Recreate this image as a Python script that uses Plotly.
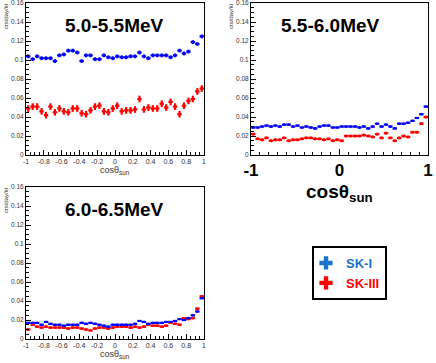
import numpy as np
import plotly.graph_objects as go

# bin centres in cos(theta_sun), 40 bins of width 0.05
cos_bins = np.round(np.arange(-0.975, 1.0, 0.05), 3)
half_width = 0.025

# 5.0-5.5 MeV
sk1_a = [0.104, 0.101, 0.104, 0.102, 0.102, 0.102, 0.099, 0.105, 0.106, 0.110,
         0.110, 0.108, 0.099, 0.105, 0.105, 0.101, 0.101, 0.105, 0.103, 0.102,
         0.104, 0.103, 0.103, 0.104, 0.104, 0.108, 0.104, 0.102, 0.105, 0.105,
         0.105, 0.105, 0.103, 0.105, 0.110, 0.107, 0.109, 0.119, 0.117, 0.125]
sk3_a = [0.049, 0.051, 0.051, 0.046, 0.042, 0.051, 0.045, 0.049, 0.046, 0.045,
         0.049, 0.049, 0.044, 0.043, 0.047, 0.051, 0.052, 0.046, 0.045, 0.049,
         0.052, 0.046, 0.047, 0.047, 0.048, 0.059, 0.048, 0.050, 0.049, 0.049,
         0.054, 0.050, 0.056, 0.051, 0.043, 0.052, 0.057, 0.059, 0.067, 0.070]

# 5.5-6.0 MeV
sk1_b = [0.029, 0.029, 0.030, 0.031, 0.030, 0.031, 0.030, 0.032, 0.032, 0.030,
         0.031, 0.029, 0.030, 0.029, 0.028, 0.030, 0.031, 0.031, 0.029, 0.029,
         0.030, 0.030, 0.030, 0.030, 0.029, 0.030, 0.028, 0.030, 0.033, 0.030,
         0.032, 0.030, 0.028, 0.033, 0.033, 0.034, 0.036, 0.039, 0.043, 0.051]
sk3_b = [0.022, 0.017, 0.016, 0.018, 0.015, 0.016, 0.016, 0.018, 0.015, 0.016,
         0.016, 0.017, 0.018, 0.018, 0.017, 0.017, 0.016, 0.017, 0.015, 0.016,
         0.015, 0.020, 0.020, 0.020, 0.020, 0.021, 0.020, 0.019, 0.022, 0.018,
         0.023, 0.018, 0.015, 0.018, 0.020, 0.019, 0.024, 0.024, 0.033, 0.040]

# 6.0-6.5 MeV
sk1_c = [0.017, 0.017, 0.017, 0.015, 0.018, 0.016, 0.015, 0.015, 0.014, 0.015,
         0.015, 0.015, 0.017, 0.016, 0.017, 0.016, 0.015, 0.014, 0.013, 0.015,
         0.015, 0.015, 0.015, 0.015, 0.016, 0.019, 0.018, 0.016, 0.017, 0.017,
         0.017, 0.018, 0.018, 0.019, 0.021, 0.020, 0.022, 0.025, 0.029, 0.043]
sk3_c = [0.010, 0.015, 0.013, 0.012, 0.013, 0.012, 0.012, 0.012, 0.012, 0.011,
         0.012, 0.012, 0.011, 0.010, 0.009, 0.011, 0.012, 0.012, 0.011, 0.012,
         0.013, 0.013, 0.013, 0.012, 0.013, 0.012, 0.013, 0.015, 0.014, 0.014,
         0.013, 0.014, 0.017, 0.016, 0.015, 0.022, 0.021, 0.022, 0.032, 0.045]

# statistical errors (approx.)
err_sk1 = [0.002, 0.001, 0.001]
err_sk3 = [0.0035, 0.0015, 0.0012]

panels = ["5.0-5.5MeV", "5.5-6.0MeV", "6.0-6.5MeV"]
sk1_sets = [sk1_a, sk1_b, sk1_c]
sk3_sets = [sk3_a, sk3_b, sk3_c]

y_ticks = [0, 0.02, 0.04, 0.06, 0.08, 0.1, 0.12, 0.14, 0.16]
y_labels = ["0", "0.02", "0.04", "0.06", "0.08", "0.1", "0.12", "0.14", "0.16"]
x_ticks = [-1, -0.8, -0.6, -0.4, -0.2, 0, 0.2, 0.4, 0.6, 0.8, 1]
x_labels = ["-1", "-0.8", "-0.6", "-0.4", "-0.2", "0", "0.2", "0.4", "0.6", "0.8", "1"]

BLUE = "#0000ff"
RED = "#ff0000"
FONT = "Arial, Liberation Sans, sans-serif"

W, H = 436, 363
# plot-area boxes in pixels: (left, right, top, bottom)
boxes = [(26, 204, 3, 155), (251, 428, 3, 155), (26, 204, 187, 339)]
title_shift = [0, -9, 0]  # px, horizontal nudge of panel titles

fig = go.Figure()

for i in range(3):
    xa = "x" if i == 0 else "x%d" % (i + 1)
    ya = "y" if i == 0 else "y%d" % (i + 1)
    for vals, err, col in [(sk3_sets[i], err_sk3[i], RED), (sk1_sets[i], err_sk1[i], BLUE)]:
        fig.add_trace(go.Scatter(
            x=cos_bins, y=vals, xaxis=xa, yaxis=ya, mode="markers",
            marker=dict(symbol="square", size=2, color=col),
            error_x=dict(type="constant", value=half_width, color=col, thickness=2.2, width=0),
            error_y=dict(type="constant", value=err, color=col, thickness=2.2, width=0),
            showlegend=False, hoverinfo="skip",
        ))

    l, r, t, b = boxes[i]
    dom_x = [l / W, r / W]
    dom_y = [1 - b / H, 1 - t / H]
    big = (i == 1)
    xaxis = dict(
        domain=dom_x, range=[-1.0001, 1.0001], anchor=ya, automargin=False,
        showline=True, linecolor="black", linewidth=1, mirror=True,
        showgrid=False, zeroline=False, ticklabeloverflow="allow",
        ticks="inside", ticklen=5, tickcolor="black",
        minor=dict(ticks="inside", ticklen=3, dtick=0.05 if not big else 0.1, tickcolor="black"),
    )
    if big:
        xaxis.update(tickvals=[-1, 0, 1], ticktext=["<b>-1</b>", "<b>0</b>", "<b>1</b>"],
                     tickfont=dict(family=FONT, size=17, color="black"),
                     ticklen=6, tickangle=0)
    else:
        xaxis.update(tickvals=x_ticks, ticktext=x_labels, tickangle=0,
                     tickfont=dict(family=FONT, size=7, color="#333"))
    yaxis = dict(
        domain=dom_y, range=[0, 0.1602], anchor=xa, automargin=False,
        showline=True, linecolor="black", linewidth=1, mirror=True,
        showgrid=False, zeroline=False, ticklabeloverflow="allow",
        ticks="inside", ticklen=5, tickcolor="black",
        tickvals=y_ticks, ticktext=y_labels,
        tickfont=dict(family=FONT, size=6.5, color="#333"),
        minor=dict(ticks="inside", ticklen=3, dtick=0.005, tickcolor="black"),
    )
    key = "" if i == 0 else str(i + 1)
    fig.update_layout(**{"xaxis" + key: xaxis, "yaxis" + key: yaxis})

    # panel title
    fig.add_annotation(x=((l + r) / 2 + title_shift[i]) / W, y=1 - (t + 22) / H,
                       xref="paper", yref="paper", showarrow=False,
                       text="<b>%s</b>" % panels[i], xanchor="center", yanchor="middle",
                       font=dict(family=FONT, size=19, color="black"))
    # y-axis title
    fig.add_annotation(x=(l - 20) / W, y=1 - (t - 2) / H, xref="paper", yref="paper",
                       showarrow=False, text="cts/day/kt", textangle=-90,
                       xanchor="center", yanchor="top",
                       font=dict(family=FONT, size=6, color="#333"))
    # x-axis title
    if big:
        fig.add_annotation(x=(l + r) / 2 / W, y=1 - (b + 38) / H, xref="paper", yref="paper",
                           showarrow=False, text="<b>cosθ<sub>sun</sub></b>",
                           xanchor="center", yanchor="middle",
                           font=dict(family=FONT, size=19, color="black"))
    else:
        fig.add_annotation(x=(l + r) / 2 / W, y=1 - (b + 15) / H, xref="paper", yref="paper",
                           showarrow=False, text="cosθ<sub>sun</sub>",
                           xanchor="center", yanchor="middle",
                           font=dict(family=FONT, size=9, color="#333"))

# legend entries (dummy traces)
fig.add_trace(go.Scatter(x=[None], y=[None], mode="markers",
                         marker=dict(symbol="cross", size=11, color="#1874cd"),
                         name="<b><span style='color:#1874cd'>SK-I</span></b>"))
fig.add_trace(go.Scatter(x=[None], y=[None], mode="markers",
                         marker=dict(symbol="cross", size=11, color=RED),
                         name="<b><span style='color:#ff0000'>SK-III</span></b>"))

fig.update_layout(
    width=W, height=H, margin=dict(l=0, r=0, t=0, b=0),
    paper_bgcolor="white", plot_bgcolor="white",
    legend=dict(x=312 / W, y=1 - 246 / H, xanchor="left", yanchor="top",
                bordercolor="black", borderwidth=2, bgcolor="white",
                font=dict(family=FONT, size=13), tracegroupgap=0,
                itemwidth=30, indentation=-8),
)

# drop the default page margin so the figure sits at the window's corner
fig.write_html("out.html", config={"displayModeBar": False},
               post_script="document.body.style.margin='0';")
